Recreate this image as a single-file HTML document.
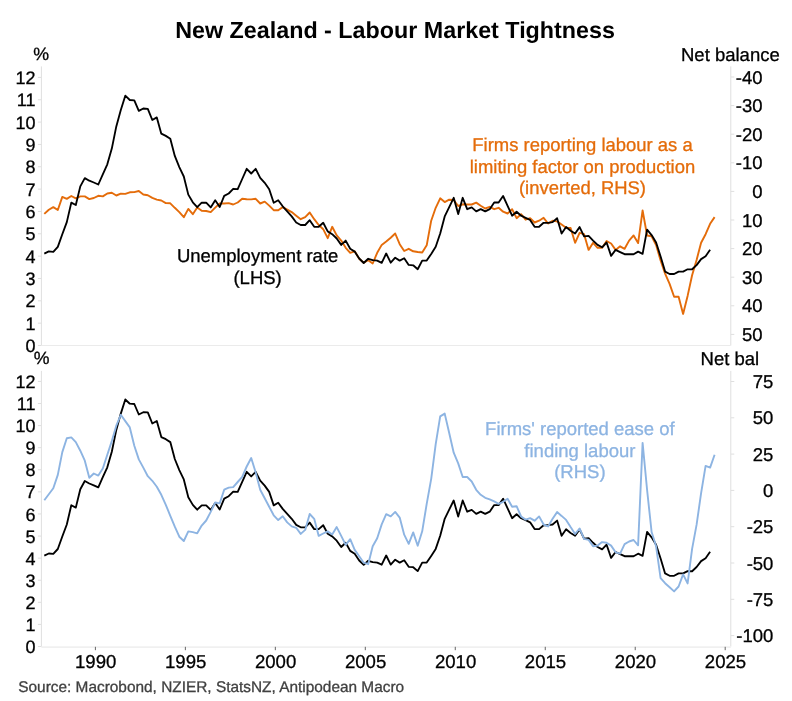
<!DOCTYPE html><html><head><meta charset="utf-8"><style>html,body{margin:0;padding:0;background:#fff;width:792px;height:701px;overflow:hidden}</style></head><body><svg width="792" height="701" viewBox="0 0 792 701" style="display:block;will-change:transform;text-rendering:geometricPrecision;font-family:'Liberation Sans',sans-serif"><text x="395.1" y="37.8" text-anchor="middle" font-size="23.3" fill="#000" font-weight="bold">New Zealand - Labour Market Tightness</text><line x1="41.4" y1="66.4" x2="41.4" y2="345.5" stroke="#dfdfdf" stroke-width="1"/><line x1="730.8" y1="66.4" x2="730.8" y2="345.5" stroke="#dfdfdf" stroke-width="1"/><line x1="41.4" y1="345.5" x2="730.8" y2="345.5" stroke="#ebebeb" stroke-width="1.2"/><line x1="37.9" y1="345.50" x2="41.4" y2="345.50" stroke="#dfdfdf" stroke-width="1"/><text x="35.5" y="352.0" text-anchor="end" font-size="18" fill="#000" font-weight="normal" stroke="#000" stroke-width="0.3">0</text><line x1="37.9" y1="323.16" x2="41.4" y2="323.16" stroke="#dfdfdf" stroke-width="1"/><text x="35.5" y="329.7" text-anchor="end" font-size="18" fill="#000" font-weight="normal" stroke="#000" stroke-width="0.3">1</text><line x1="37.9" y1="300.82" x2="41.4" y2="300.82" stroke="#dfdfdf" stroke-width="1"/><text x="35.5" y="307.3" text-anchor="end" font-size="18" fill="#000" font-weight="normal" stroke="#000" stroke-width="0.3">2</text><line x1="37.9" y1="278.48" x2="41.4" y2="278.48" stroke="#dfdfdf" stroke-width="1"/><text x="35.5" y="285.0" text-anchor="end" font-size="18" fill="#000" font-weight="normal" stroke="#000" stroke-width="0.3">3</text><line x1="37.9" y1="256.14" x2="41.4" y2="256.14" stroke="#dfdfdf" stroke-width="1"/><text x="35.5" y="262.6" text-anchor="end" font-size="18" fill="#000" font-weight="normal" stroke="#000" stroke-width="0.3">4</text><line x1="37.9" y1="233.80" x2="41.4" y2="233.80" stroke="#dfdfdf" stroke-width="1"/><text x="35.5" y="240.3" text-anchor="end" font-size="18" fill="#000" font-weight="normal" stroke="#000" stroke-width="0.3">5</text><line x1="37.9" y1="211.46" x2="41.4" y2="211.46" stroke="#dfdfdf" stroke-width="1"/><text x="35.5" y="218.0" text-anchor="end" font-size="18" fill="#000" font-weight="normal" stroke="#000" stroke-width="0.3">6</text><line x1="37.9" y1="189.12" x2="41.4" y2="189.12" stroke="#dfdfdf" stroke-width="1"/><text x="35.5" y="195.6" text-anchor="end" font-size="18" fill="#000" font-weight="normal" stroke="#000" stroke-width="0.3">7</text><line x1="37.9" y1="166.78" x2="41.4" y2="166.78" stroke="#dfdfdf" stroke-width="1"/><text x="35.5" y="173.3" text-anchor="end" font-size="18" fill="#000" font-weight="normal" stroke="#000" stroke-width="0.3">8</text><line x1="37.9" y1="144.44" x2="41.4" y2="144.44" stroke="#dfdfdf" stroke-width="1"/><text x="35.5" y="150.9" text-anchor="end" font-size="18" fill="#000" font-weight="normal" stroke="#000" stroke-width="0.3">9</text><line x1="37.9" y1="122.10" x2="41.4" y2="122.10" stroke="#dfdfdf" stroke-width="1"/><text x="35.5" y="128.6" text-anchor="end" font-size="18" fill="#000" font-weight="normal" stroke="#000" stroke-width="0.3">10</text><line x1="37.9" y1="99.76" x2="41.4" y2="99.76" stroke="#dfdfdf" stroke-width="1"/><text x="35.5" y="106.3" text-anchor="end" font-size="18" fill="#000" font-weight="normal" stroke="#000" stroke-width="0.3">11</text><line x1="37.9" y1="77.42" x2="41.4" y2="77.42" stroke="#dfdfdf" stroke-width="1"/><text x="35.5" y="83.9" text-anchor="end" font-size="18" fill="#000" font-weight="normal" stroke="#000" stroke-width="0.3">12</text><line x1="730.8" y1="77.00" x2="734.3" y2="77.00" stroke="#dfdfdf" stroke-width="1"/><text x="762.6" y="83.6" text-anchor="end" font-size="18.5" fill="#000" font-weight="normal" stroke="#000" stroke-width="0.3">-40</text><line x1="730.8" y1="105.60" x2="734.3" y2="105.60" stroke="#dfdfdf" stroke-width="1"/><text x="762.6" y="112.2" text-anchor="end" font-size="18.5" fill="#000" font-weight="normal" stroke="#000" stroke-width="0.3">-30</text><line x1="730.8" y1="134.20" x2="734.3" y2="134.20" stroke="#dfdfdf" stroke-width="1"/><text x="762.6" y="140.8" text-anchor="end" font-size="18.5" fill="#000" font-weight="normal" stroke="#000" stroke-width="0.3">-20</text><line x1="730.8" y1="162.80" x2="734.3" y2="162.80" stroke="#dfdfdf" stroke-width="1"/><text x="762.6" y="169.4" text-anchor="end" font-size="18.5" fill="#000" font-weight="normal" stroke="#000" stroke-width="0.3">-10</text><line x1="730.8" y1="191.40" x2="734.3" y2="191.40" stroke="#dfdfdf" stroke-width="1"/><text x="762.6" y="198.0" text-anchor="end" font-size="18.5" fill="#000" font-weight="normal" stroke="#000" stroke-width="0.3">0</text><line x1="730.8" y1="220.00" x2="734.3" y2="220.00" stroke="#dfdfdf" stroke-width="1"/><text x="762.6" y="226.6" text-anchor="end" font-size="18.5" fill="#000" font-weight="normal" stroke="#000" stroke-width="0.3">10</text><line x1="730.8" y1="248.60" x2="734.3" y2="248.60" stroke="#dfdfdf" stroke-width="1"/><text x="762.6" y="255.2" text-anchor="end" font-size="18.5" fill="#000" font-weight="normal" stroke="#000" stroke-width="0.3">20</text><line x1="730.8" y1="277.20" x2="734.3" y2="277.20" stroke="#dfdfdf" stroke-width="1"/><text x="762.6" y="283.8" text-anchor="end" font-size="18.5" fill="#000" font-weight="normal" stroke="#000" stroke-width="0.3">30</text><line x1="730.8" y1="305.80" x2="734.3" y2="305.80" stroke="#dfdfdf" stroke-width="1"/><text x="762.6" y="312.4" text-anchor="end" font-size="18.5" fill="#000" font-weight="normal" stroke="#000" stroke-width="0.3">40</text><line x1="730.8" y1="334.40" x2="734.3" y2="334.40" stroke="#dfdfdf" stroke-width="1"/><text x="762.6" y="340.9" text-anchor="end" font-size="18.5" fill="#000" font-weight="normal" stroke="#000" stroke-width="0.3">50</text><text x="33.3" y="59.8" text-anchor="start" font-size="17.8" fill="#000" font-weight="normal" stroke="#000" stroke-width="0.3">%</text><text x="681.0" y="60.8" text-anchor="start" font-size="18.5" fill="#000" font-weight="normal" stroke="#000" stroke-width="0.3">Net balance</text><line x1="41.4" y1="370.9" x2="41.4" y2="646.5" stroke="#dfdfdf" stroke-width="1"/><line x1="730.8" y1="370.9" x2="730.8" y2="646.5" stroke="#dfdfdf" stroke-width="1"/><line x1="41.4" y1="647.1" x2="730.8" y2="647.1" stroke="#f0f0f0" stroke-width="1.6"/><line x1="37.9" y1="646.50" x2="41.4" y2="646.50" stroke="#dfdfdf" stroke-width="1"/><text x="35.5" y="653.0" text-anchor="end" font-size="18" fill="#000" font-weight="normal" stroke="#000" stroke-width="0.3">0</text><line x1="37.9" y1="624.41" x2="41.4" y2="624.41" stroke="#dfdfdf" stroke-width="1"/><text x="35.5" y="630.9" text-anchor="end" font-size="18" fill="#000" font-weight="normal" stroke="#000" stroke-width="0.3">1</text><line x1="37.9" y1="602.32" x2="41.4" y2="602.32" stroke="#dfdfdf" stroke-width="1"/><text x="35.5" y="608.8" text-anchor="end" font-size="18" fill="#000" font-weight="normal" stroke="#000" stroke-width="0.3">2</text><line x1="37.9" y1="580.23" x2="41.4" y2="580.23" stroke="#dfdfdf" stroke-width="1"/><text x="35.5" y="586.7" text-anchor="end" font-size="18" fill="#000" font-weight="normal" stroke="#000" stroke-width="0.3">3</text><line x1="37.9" y1="558.14" x2="41.4" y2="558.14" stroke="#dfdfdf" stroke-width="1"/><text x="35.5" y="564.6" text-anchor="end" font-size="18" fill="#000" font-weight="normal" stroke="#000" stroke-width="0.3">4</text><line x1="37.9" y1="536.05" x2="41.4" y2="536.05" stroke="#dfdfdf" stroke-width="1"/><text x="35.5" y="542.5" text-anchor="end" font-size="18" fill="#000" font-weight="normal" stroke="#000" stroke-width="0.3">5</text><line x1="37.9" y1="513.96" x2="41.4" y2="513.96" stroke="#dfdfdf" stroke-width="1"/><text x="35.5" y="520.5" text-anchor="end" font-size="18" fill="#000" font-weight="normal" stroke="#000" stroke-width="0.3">6</text><line x1="37.9" y1="491.87" x2="41.4" y2="491.87" stroke="#dfdfdf" stroke-width="1"/><text x="35.5" y="498.4" text-anchor="end" font-size="18" fill="#000" font-weight="normal" stroke="#000" stroke-width="0.3">7</text><line x1="37.9" y1="469.78" x2="41.4" y2="469.78" stroke="#dfdfdf" stroke-width="1"/><text x="35.5" y="476.3" text-anchor="end" font-size="18" fill="#000" font-weight="normal" stroke="#000" stroke-width="0.3">8</text><line x1="37.9" y1="447.69" x2="41.4" y2="447.69" stroke="#dfdfdf" stroke-width="1"/><text x="35.5" y="454.2" text-anchor="end" font-size="18" fill="#000" font-weight="normal" stroke="#000" stroke-width="0.3">9</text><line x1="37.9" y1="425.60" x2="41.4" y2="425.60" stroke="#dfdfdf" stroke-width="1"/><text x="35.5" y="432.1" text-anchor="end" font-size="18" fill="#000" font-weight="normal" stroke="#000" stroke-width="0.3">10</text><line x1="37.9" y1="403.51" x2="41.4" y2="403.51" stroke="#dfdfdf" stroke-width="1"/><text x="35.5" y="410.0" text-anchor="end" font-size="18" fill="#000" font-weight="normal" stroke="#000" stroke-width="0.3">11</text><line x1="37.9" y1="381.42" x2="41.4" y2="381.42" stroke="#dfdfdf" stroke-width="1"/><text x="35.5" y="387.9" text-anchor="end" font-size="18" fill="#000" font-weight="normal" stroke="#000" stroke-width="0.3">12</text><line x1="730.8" y1="635.60" x2="734.3" y2="635.60" stroke="#dfdfdf" stroke-width="1"/><text x="773.4" y="642.1" text-anchor="end" font-size="18.5" fill="#000" font-weight="normal" stroke="#000" stroke-width="0.3">-100</text><line x1="730.8" y1="599.30" x2="734.3" y2="599.30" stroke="#dfdfdf" stroke-width="1"/><text x="773.4" y="605.8" text-anchor="end" font-size="18.5" fill="#000" font-weight="normal" stroke="#000" stroke-width="0.3">-75</text><line x1="730.8" y1="563.00" x2="734.3" y2="563.00" stroke="#dfdfdf" stroke-width="1"/><text x="773.4" y="569.5" text-anchor="end" font-size="18.5" fill="#000" font-weight="normal" stroke="#000" stroke-width="0.3">-50</text><line x1="730.8" y1="526.70" x2="734.3" y2="526.70" stroke="#dfdfdf" stroke-width="1"/><text x="773.4" y="533.2" text-anchor="end" font-size="18.5" fill="#000" font-weight="normal" stroke="#000" stroke-width="0.3">-25</text><line x1="730.8" y1="490.40" x2="734.3" y2="490.40" stroke="#dfdfdf" stroke-width="1"/><text x="773.4" y="496.9" text-anchor="end" font-size="18.5" fill="#000" font-weight="normal" stroke="#000" stroke-width="0.3">0</text><line x1="730.8" y1="454.10" x2="734.3" y2="454.10" stroke="#dfdfdf" stroke-width="1"/><text x="773.4" y="460.6" text-anchor="end" font-size="18.5" fill="#000" font-weight="normal" stroke="#000" stroke-width="0.3">25</text><line x1="730.8" y1="417.80" x2="734.3" y2="417.80" stroke="#dfdfdf" stroke-width="1"/><text x="773.4" y="424.3" text-anchor="end" font-size="18.5" fill="#000" font-weight="normal" stroke="#000" stroke-width="0.3">50</text><line x1="730.8" y1="381.50" x2="734.3" y2="381.50" stroke="#dfdfdf" stroke-width="1"/><text x="773.4" y="388.1" text-anchor="end" font-size="18.5" fill="#000" font-weight="normal" stroke="#000" stroke-width="0.3">75</text><text x="33.7" y="364.4" text-anchor="start" font-size="17.7" fill="#000" font-weight="normal" stroke="#000" stroke-width="0.3">%</text><text x="700.6" y="365.0" text-anchor="start" font-size="18.5" fill="#000" font-weight="normal" stroke="#000" stroke-width="0.3">Net bal</text><line x1="95.40" y1="646.8" x2="95.40" y2="650.2" stroke="#666" stroke-width="1"/><text x="95.7" y="668.0" text-anchor="middle" font-size="18.6" fill="#000" font-weight="normal" stroke="#000" stroke-width="0.3">1990</text><line x1="185.37" y1="646.8" x2="185.37" y2="650.2" stroke="#666" stroke-width="1"/><text x="185.7" y="668.0" text-anchor="middle" font-size="18.6" fill="#000" font-weight="normal" stroke="#000" stroke-width="0.3">1995</text><line x1="275.34" y1="646.8" x2="275.34" y2="650.2" stroke="#666" stroke-width="1"/><text x="275.6" y="668.0" text-anchor="middle" font-size="18.6" fill="#000" font-weight="normal" stroke="#000" stroke-width="0.3">2000</text><line x1="365.31" y1="646.8" x2="365.31" y2="650.2" stroke="#666" stroke-width="1"/><text x="365.6" y="668.0" text-anchor="middle" font-size="18.6" fill="#000" font-weight="normal" stroke="#000" stroke-width="0.3">2005</text><line x1="455.28" y1="646.8" x2="455.28" y2="650.2" stroke="#666" stroke-width="1"/><text x="455.6" y="668.0" text-anchor="middle" font-size="18.6" fill="#000" font-weight="normal" stroke="#000" stroke-width="0.3">2010</text><line x1="545.25" y1="646.8" x2="545.25" y2="650.2" stroke="#666" stroke-width="1"/><text x="545.5" y="668.0" text-anchor="middle" font-size="18.6" fill="#000" font-weight="normal" stroke="#000" stroke-width="0.3">2015</text><line x1="635.22" y1="646.8" x2="635.22" y2="650.2" stroke="#666" stroke-width="1"/><text x="635.5" y="668.0" text-anchor="middle" font-size="18.6" fill="#000" font-weight="normal" stroke="#000" stroke-width="0.3">2020</text><line x1="725.19" y1="646.8" x2="725.19" y2="650.2" stroke="#666" stroke-width="1"/><text x="725.5" y="668.0" text-anchor="middle" font-size="18.6" fill="#000" font-weight="normal" stroke="#000" stroke-width="0.3">2025</text><text x="582.5" y="151.3" text-anchor="middle" font-size="18.45" fill="#e46c0a" font-weight="normal" stroke="#e46c0a" stroke-width="0.3">Firms reporting labour as a</text><text x="582.5" y="172.9" text-anchor="middle" font-size="18.45" fill="#e46c0a" font-weight="normal" stroke="#e46c0a" stroke-width="0.3">limiting factor on production</text><text x="582.5" y="194.0" text-anchor="middle" font-size="18.45" fill="#e46c0a" font-weight="normal" stroke="#e46c0a" stroke-width="0.3">(inverted, RHS)</text><text x="257.6" y="262.2" text-anchor="middle" font-size="18.5" fill="#000" font-weight="normal" stroke="#000" stroke-width="0.3">Unemployment rate</text><text x="257.6" y="284.0" text-anchor="middle" font-size="18.5" fill="#000" font-weight="normal" stroke="#000" stroke-width="0.3">(LHS)</text><text x="579.9" y="434.9" text-anchor="middle" font-size="18.5" fill="#8db4e2" font-weight="normal" stroke="#8db4e2" stroke-width="0.3">Firms' reported ease of</text><text x="579.9" y="456.7" text-anchor="middle" font-size="18.5" fill="#8db4e2" font-weight="normal" stroke="#8db4e2" stroke-width="0.3">finding labour</text><text x="579.9" y="477.8" text-anchor="middle" font-size="18.5" fill="#8db4e2" font-weight="normal" stroke="#8db4e2" stroke-width="0.3">(RHS)</text><text x="18.3" y="691.5" text-anchor="start" font-size="15.4" fill="#404040" font-weight="normal" stroke="#404040" stroke-width="0.3">Source: Macrobond, NZIER, StatsNZ, Antipodean Macro</text><polyline points="44.3,213.9 48.8,209.7 53.3,207.1 57.8,210.0 62.3,196.9 66.8,198.9 71.3,196.0 75.8,198.3 80.3,196.4 84.8,196.4 89.3,199.1 93.8,198.0 98.3,195.8 102.8,196.4 107.3,193.5 111.8,192.8 116.3,195.5 120.8,193.7 125.3,193.9 129.8,192.3 134.3,192.1 138.8,191.0 143.3,194.5 147.8,195.3 152.3,197.9 156.8,199.6 161.3,200.5 165.8,203.1 170.3,203.3 174.8,207.8 179.3,212.1 183.8,217.2 188.3,208.9 192.8,214.2 197.2,207.4 201.7,210.8 206.2,211.0 210.7,212.1 215.2,207.6 219.7,203.5 224.2,203.5 228.7,203.1 233.2,204.5 237.7,202.5 242.2,198.8 246.7,199.2 251.2,199.4 255.7,198.8 260.2,203.5 264.7,201.6 269.2,205.6 273.7,210.2 278.2,210.2 282.7,207.1 287.2,209.6 291.7,212.1 296.2,215.7 300.7,219.2 305.2,217.1 309.7,212.5 314.2,219.2 318.7,225.0 323.2,229.2 327.7,238.2 332.2,226.8 336.7,235.4 341.2,240.6 345.7,247.8 350.2,252.8 354.7,251.3 359.2,258.8 363.7,262.8 368.2,260.2 372.7,263.5 377.2,252.8 381.7,244.9 386.2,241.6 390.7,237.8 395.2,233.5 399.7,244.2 404.2,251.0 408.7,248.8 413.2,251.3 417.7,252.0 422.2,252.5 426.7,245.3 431.2,220.7 435.7,207.8 440.2,198.3 444.7,202.1 449.2,199.7 453.7,200.0 458.2,206.0 462.7,204.3 467.2,204.5 471.7,204.5 476.2,202.6 480.7,205.7 485.2,208.5 489.7,206.8 494.2,209.2 498.6,207.8 503.1,211.7 507.6,213.5 512.1,209.2 516.6,218.2 521.1,214.2 525.6,219.7 530.1,218.2 534.6,222.5 539.1,220.7 543.6,217.8 548.1,223.5 552.6,220.7 557.1,221.4 561.6,224.5 566.1,227.8 570.6,228.0 575.1,242.8 579.6,232.8 584.1,234.2 588.6,249.9 593.1,242.8 597.6,247.8 602.1,247.8 606.6,241.1 611.1,243.5 615.6,249.9 620.1,246.3 624.6,248.8 629.1,240.6 633.6,235.4 638.1,243.1 642.6,210.5 647.1,235.5 651.6,236.2 656.1,245.0 660.6,260.5 665.1,273.6 669.6,283.9 674.1,296.7 678.6,296.7 683.1,313.9 687.6,295.9 692.1,275.3 696.6,259.9 701.1,242.8 705.6,234.2 710.1,223.8 714.6,217.1" fill="none" stroke="#e46c0a" stroke-width="1.9" stroke-linejoin="round" stroke-linecap="butt"/><polyline points="44.3,253.6 48.8,251.4 53.3,251.9 57.8,246.9 62.3,234.3 66.8,222.1 71.3,202.6 75.8,205.0 80.3,186.4 84.8,178.1 89.3,180.7 93.8,182.5 98.3,184.5 102.8,174.3 107.3,164.3 111.8,148.6 116.3,126.4 120.8,110.0 125.3,95.7 129.8,100.0 134.3,100.3 138.8,110.9 143.3,108.5 147.8,108.8 152.3,120.0 156.8,117.4 161.3,133.7 165.8,135.9 170.3,138.8 174.8,155.9 179.3,167.1 183.8,176.5 188.3,194.6 192.8,202.3 197.2,207.2 201.7,202.7 206.2,202.7 210.7,207.4 215.2,200.3 219.7,207.0 224.2,195.9 228.7,193.5 233.2,188.8 237.7,189.2 242.2,179.0 246.7,168.8 251.2,173.5 255.7,168.8 260.2,177.8 264.7,182.8 269.2,189.2 273.7,202.8 278.2,200.2 282.7,206.3 287.2,211.3 291.7,216.4 296.2,222.5 300.7,225.0 305.2,225.0 309.7,220.2 314.2,226.8 318.7,226.8 323.2,222.8 327.7,231.4 332.2,234.2 336.7,238.5 341.2,244.9 345.7,240.6 350.2,248.8 354.7,251.6 359.2,258.5 363.7,263.0 368.2,258.8 372.7,260.2 377.2,260.6 381.7,262.8 386.2,253.5 390.7,262.7 395.2,257.7 399.7,260.6 404.2,258.2 408.7,264.9 413.2,265.3 417.7,269.2 422.2,260.6 426.7,260.6 431.2,253.9 435.7,246.8 440.2,233.5 444.7,216.4 449.2,207.1 453.7,197.8 458.2,214.0 462.7,197.8 467.2,209.2 471.7,207.4 476.2,211.4 480.7,209.2 485.2,211.4 489.7,209.2 494.2,202.5 498.6,202.5 503.1,196.0 507.6,205.8 512.1,215.7 516.6,211.7 521.1,215.7 525.6,217.8 530.1,219.9 534.6,226.8 539.1,226.8 543.6,222.8 548.1,222.8 552.6,222.1 557.1,218.2 561.6,233.5 566.1,227.0 570.6,230.7 575.1,233.5 579.6,227.1 584.1,236.4 588.6,235.9 593.1,240.6 597.6,244.9 602.1,247.3 606.6,242.5 611.1,255.9 615.6,249.9 620.1,252.1 624.6,254.2 629.1,254.2 633.6,254.2 638.1,251.6 642.6,253.9 647.1,229.6 651.6,235.1 656.1,242.5 660.6,256.5 665.1,271.6 669.6,274.0 674.1,274.0 678.6,271.6 683.1,271.6 687.6,269.3 692.1,269.3 696.6,265.1 701.1,259.1 705.6,256.2 710.1,249.7" fill="none" stroke="#000" stroke-width="1.85" stroke-linejoin="round" stroke-linecap="butt"/><polyline points="44.3,555.6 48.8,553.5 53.3,553.9 57.8,549.0 62.3,536.5 66.8,524.5 71.3,505.2 75.8,507.6 80.3,489.2 84.8,481.0 89.3,483.5 93.8,485.3 98.3,487.3 102.8,477.2 107.3,467.3 111.8,451.8 116.3,429.9 120.8,413.6 125.3,399.5 129.8,403.7 134.3,404.0 138.8,414.5 143.3,412.2 147.8,412.4 152.3,423.5 156.8,421.0 161.3,437.1 165.8,439.2 170.3,442.1 174.8,459.0 179.3,470.1 183.8,479.4 188.3,497.3 192.8,504.9 197.2,509.7 201.7,505.3 206.2,505.3 210.7,509.9 215.2,502.9 219.7,509.5 224.2,498.6 228.7,496.2 233.2,491.6 237.7,491.9 242.2,481.9 246.7,471.8 251.2,476.4 255.7,471.8 260.2,480.7 264.7,485.6 269.2,491.9 273.7,505.4 278.2,502.8 282.7,508.9 287.2,513.8 291.7,518.8 296.2,524.9 300.7,527.3 305.2,527.3 309.7,522.6 314.2,529.1 318.7,529.1 323.2,525.2 327.7,533.7 332.2,536.4 336.7,540.7 341.2,547.0 345.7,542.8 350.2,550.9 354.7,553.7 359.2,560.5 363.7,564.9 368.2,560.8 372.7,562.2 377.2,562.6 381.7,564.7 386.2,555.5 390.7,564.6 395.2,559.7 399.7,562.6 404.2,560.2 408.7,566.8 413.2,567.2 417.7,571.1 422.2,562.6 426.7,562.6 431.2,555.9 435.7,548.9 440.2,535.8 444.7,518.8 449.2,509.6 453.7,500.5 458.2,516.5 462.7,500.5 467.2,511.7 471.7,509.9 476.2,513.9 480.7,511.7 485.2,513.9 489.7,511.7 494.2,505.1 498.6,505.1 503.1,498.7 507.6,508.4 512.1,518.2 516.6,514.2 521.1,518.2 525.6,520.2 530.1,522.3 534.6,529.1 539.1,529.1 543.6,525.2 548.1,525.2 552.6,524.5 557.1,520.6 561.6,535.8 566.1,529.3 570.6,533.0 575.1,535.8 579.6,529.4 584.1,538.6 588.6,538.1 593.1,542.8 597.6,547.0 602.1,549.4 606.6,544.7 611.1,557.9 615.6,552.0 620.1,554.1 624.6,556.2 629.1,556.2 633.6,556.2 638.1,553.7 642.6,555.9 647.1,531.9 651.6,537.3 656.1,544.7 660.6,558.5 665.1,573.4 669.6,575.8 674.1,575.8 678.6,573.4 683.1,573.4 687.6,571.2 692.1,571.2 696.6,567.0 701.1,561.1 705.6,558.2 710.1,551.8" fill="none" stroke="#000" stroke-width="1.85" stroke-linejoin="round" stroke-linecap="butt"/><polyline points="44.3,500.2 48.8,494.2 53.3,488.2 57.8,474.9 62.3,452.1 66.8,438.3 71.3,437.4 75.8,442.1 80.3,450.7 84.8,460.7 89.3,477.8 93.8,473.5 98.3,475.6 102.8,468.5 107.3,454.8 111.8,441.1 116.3,425.7 120.8,414.8 125.3,421.1 129.8,427.4 134.3,445.7 138.8,459.4 143.3,467.6 147.8,476.2 152.3,480.8 156.8,486.8 161.3,494.8 165.8,504.8 170.3,515.8 174.8,526.7 179.3,536.7 183.8,541.0 188.3,531.4 192.8,532.1 197.2,533.3 201.7,525.6 206.2,520.5 210.7,511.9 215.2,502.5 219.7,503.4 224.2,489.7 228.7,487.6 233.2,487.1 237.7,482.0 242.2,476.8 246.7,466.5 251.2,458.0 255.7,472.5 260.2,489.7 264.7,498.2 269.2,506.8 273.7,515.3 278.2,520.1 282.7,516.3 287.2,522.4 291.7,526.4 296.2,527.8 300.7,533.9 305.2,529.9 309.7,514.0 314.2,518.8 318.7,535.9 323.2,533.5 327.7,531.4 332.2,534.5 336.7,527.1 341.2,535.9 345.7,544.9 350.2,539.2 354.7,549.9 359.2,556.3 363.7,562.7 368.2,564.2 372.7,546.2 377.2,538.3 381.7,524.4 386.2,514.2 390.7,516.4 395.2,511.9 399.7,517.6 404.2,534.7 408.7,543.8 413.2,532.4 417.7,545.7 422.2,531.3 426.7,503.9 431.2,478.8 435.7,444.2 440.2,416.4 444.7,413.6 449.2,433.0 453.7,452.7 458.2,463.4 462.7,477.0 467.2,477.0 471.7,481.5 476.2,489.8 480.7,494.8 485.2,497.8 489.7,499.4 494.2,501.4 498.6,503.8 503.1,501.8 507.6,498.8 512.1,506.8 516.6,506.2 521.1,516.5 525.6,519.6 530.1,518.2 534.6,520.7 539.1,516.4 543.6,524.5 548.1,526.4 552.6,518.8 557.1,512.1 561.6,515.9 566.1,519.9 570.6,527.1 575.1,533.9 579.6,528.5 584.1,538.8 588.6,539.9 593.1,546.3 597.6,545.6 602.1,542.1 606.6,542.8 611.1,545.6 615.6,552.3 620.1,553.6 624.6,544.1 629.1,541.5 633.6,540.0 638.1,545.3 642.6,442.9 647.1,490.0 651.6,532.0 656.1,546.3 660.6,578.1 665.1,583.2 669.6,587.2 674.1,591.4 678.6,586.5 683.1,574.4 687.6,583.4 692.1,548.9 696.6,524.7 701.1,493.1 705.6,465.9 710.1,467.6 714.6,454.8" fill="none" stroke="#8db4e2" stroke-width="1.9" stroke-linejoin="round" stroke-linecap="butt"/></svg></body></html>
